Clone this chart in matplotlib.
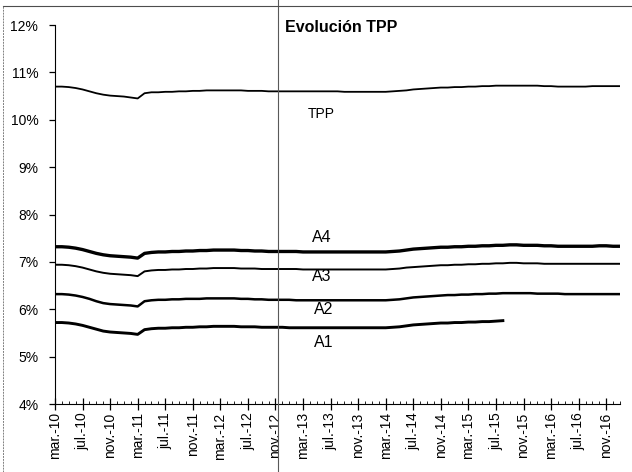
import numpy as np
import matplotlib
matplotlib.use("Agg")
import matplotlib.pyplot as plt
from matplotlib.ticker import FixedLocator, MultipleLocator, FuncFormatter

# monthly values, mar-10 .. jan-17 (%)
tpp = [10.70, 10.70, 10.69, 10.67, 10.64, 10.60, 10.56, 10.53, 10.51, 10.50, 10.49, 10.47,
       10.45,
       10.56, 10.58, 10.58, 10.59, 10.59, 10.60, 10.60, 10.61, 10.61,
       10.62, 10.62, 10.62, 10.62, 10.62, 10.62, 10.61, 10.61, 10.61, 10.60, 10.60, 10.60,
       10.60, 10.60, 10.60, 10.60, 10.60, 10.60, 10.60, 10.60, 10.59, 10.59, 10.59, 10.59,
       10.59, 10.59, 10.59, 10.60, 10.61, 10.62, 10.64, 10.65, 10.66, 10.67, 10.68, 10.68,
       10.69, 10.69, 10.70, 10.70, 10.71, 10.71, 10.72, 10.72, 10.72, 10.72, 10.72, 10.72,
       10.72, 10.71, 10.71, 10.70, 10.70, 10.70, 10.70, 10.70, 10.71, 10.71, 10.71, 10.71,
       10.71]
a4 = [7.32, 7.32, 7.31, 7.29, 7.26, 7.22, 7.18, 7.15, 7.13, 7.12, 7.11, 7.10,
      7.08,
      7.18, 7.20, 7.21, 7.21, 7.22, 7.22, 7.23, 7.23, 7.24,
      7.24, 7.25, 7.25, 7.25, 7.25, 7.24, 7.24, 7.23, 7.23, 7.22, 7.22, 7.22,
      7.22, 7.22, 7.21, 7.21, 7.21, 7.21, 7.21, 7.21, 7.21, 7.21, 7.21, 7.21,
      7.21, 7.21, 7.21, 7.22, 7.23, 7.25, 7.27, 7.28, 7.29, 7.30, 7.31, 7.31,
      7.32, 7.32, 7.33, 7.33, 7.34, 7.34, 7.35, 7.35, 7.36, 7.36, 7.35, 7.35,
      7.35, 7.34, 7.34, 7.33, 7.33, 7.33, 7.33, 7.33, 7.33, 7.34, 7.34, 7.33,
      7.33]
a3 = [6.94, 6.94, 6.93, 6.91, 6.88, 6.84, 6.80, 6.77, 6.75, 6.74, 6.73, 6.72,
      6.70,
      6.80, 6.82, 6.83, 6.83, 6.84, 6.84, 6.85, 6.85, 6.86,
      6.86, 6.87, 6.87, 6.87, 6.87, 6.86, 6.86, 6.86, 6.85, 6.85, 6.85, 6.85,
      6.85, 6.85, 6.84, 6.84, 6.84, 6.84, 6.84, 6.84, 6.84, 6.84, 6.84, 6.84,
      6.84, 6.84, 6.84, 6.85, 6.86, 6.88, 6.89, 6.90, 6.91, 6.92, 6.93, 6.93,
      6.94, 6.94, 6.95, 6.95, 6.96, 6.96, 6.97, 6.97, 6.98, 6.98, 6.97, 6.97,
      6.97, 6.96, 6.96, 6.96, 6.96, 6.96, 6.96, 6.96, 6.96, 6.96, 6.96, 6.96,
      6.96]
a2 = [6.32, 6.32, 6.31, 6.29, 6.26, 6.22, 6.17, 6.13, 6.11, 6.10, 6.09, 6.08,
      6.06,
      6.17, 6.19, 6.20, 6.20, 6.21, 6.21, 6.22, 6.22, 6.22,
      6.23, 6.23, 6.23, 6.23, 6.23, 6.22, 6.22, 6.21, 6.21, 6.20, 6.20, 6.20,
      6.20, 6.19, 6.19, 6.19, 6.19, 6.19, 6.19, 6.19, 6.19, 6.19, 6.19, 6.19,
      6.19, 6.19, 6.19, 6.20, 6.21, 6.23, 6.25, 6.26, 6.27, 6.28, 6.29, 6.30,
      6.30, 6.31, 6.31, 6.32, 6.32, 6.33, 6.33, 6.34, 6.34, 6.34, 6.34, 6.34,
      6.33, 6.33, 6.33, 6.33, 6.32, 6.32, 6.32, 6.32, 6.32, 6.32, 6.32, 6.32,
      6.32]
# A1 stops at aug-15
a1 = [5.72, 5.72, 5.71, 5.69, 5.66, 5.62, 5.58, 5.54, 5.52, 5.51, 5.50, 5.49,
      5.47,
      5.57, 5.59, 5.60, 5.60, 5.61, 5.61, 5.62, 5.62, 5.63,
      5.63, 5.64, 5.64, 5.64, 5.64, 5.63, 5.63, 5.63, 5.62, 5.62, 5.62, 5.62,
      5.61, 5.61, 5.61, 5.61, 5.61, 5.61, 5.61, 5.61, 5.61, 5.61, 5.61, 5.61,
      5.61, 5.61, 5.61, 5.62, 5.63, 5.65, 5.67, 5.68, 5.69, 5.70, 5.71, 5.71,
      5.72, 5.72, 5.73, 5.73, 5.74, 5.74, 5.75, 5.76]

tick_labels = ["mar.-10", "jul.-10", "nov.-10", "mar.-11", "jul.-11", "nov.-11",
               "mar.-12", "jul.-12", "nov.-12", "mar.-13", "jul.-13", "nov.-13",
               "mar.-14", "jul.-14", "nov.-14", "mar.-15", "jul.-15", "nov.-15",
               "mar.-16", "jul.-16", "nov.-16"]

plt.rcParams['font.family'] = ['Liberation Sans', 'DejaVu Sans']

fig = plt.figure(figsize=(6.32, 4.72), dpi=100)
ax = fig.add_axes([0.087, 0.144, 0.894, 0.803])

x = np.arange(len(tpp))
ax.plot(x, tpp, color='black', lw=1.3)
ax.plot(x, a4, color='black', lw=2.4)
ax.plot(x, a3, color='black', lw=1.4)
ax.plot(x, a2, color='black', lw=1.8)
ax.plot(np.arange(len(a1)), a1, color='black', lw=2.1)

ax.set_xlim(0, len(tpp) - 1)
ax.set_ylim(4, 12)
ax.yaxis.set_major_locator(MultipleLocator(1))
ax.yaxis.set_major_formatter(FuncFormatter(lambda v, p: f"{v:.0f}%"))
ax.xaxis.set_major_locator(FixedLocator(np.arange(0, 81, 4)))
ax.set_xticklabels(tick_labels, rotation=90, fontsize=10)
ax.xaxis.set_minor_locator(MultipleLocator(1))
ax.tick_params(axis='x', which='major', direction='inout', length=8, width=0.9, pad=2)
ax.tick_params(axis='x', which='minor', direction='in', length=2, width=0.6)
ax.tick_params(axis='y', which='major', direction='out', length=4, width=0.9,
               labelsize=10, pad=8)
for s in ['top', 'right']:
    ax.spines[s].set_visible(False)

# series labels
ax.text(38.7, 10.12, "TPP", fontsize=10, ha='center', va='center')
ax.text(38.7, 7.52, "A4", fontsize=11.5, ha='center', va='center')
ax.text(38.7, 6.69, "A3", fontsize=11.5, ha='center', va='center')
ax.text(39.0, 5.99, "A2", fontsize=11.5, ha='center', va='center')
ax.text(39.0, 5.29, "A1", fontsize=11.5, ha='center', va='center')

fig.text(285 / 632, 1 - 27 / 472, "Evolución TPP", fontsize=11.5, fontweight='bold',
         ha='left', va='center')

# scan frame lines
fig.add_artist(plt.Line2D([278 / 632, 278 / 632], [0, 1], color='0.35', lw=0.8))
fig.add_artist(plt.Line2D([3 / 632, 632 / 632], [1 - 6 / 472, 1 - 6 / 472], color='0.3', lw=0.8))
fig.add_artist(plt.Line2D([3 / 632, 3 / 632], [0, 1 - 6 / 472], color='0.5', lw=0.7, ls=(0, (2, 1))))

fig.savefig("out.png", dpi=100)
